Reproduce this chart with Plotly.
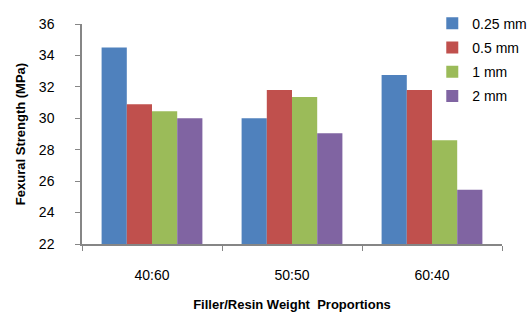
import plotly.graph_objects as go

categories = ["40:60", "50:50", "60:40"]
series_names = ["0.25 mm", "0.5 mm", "1 mm", "2 mm"]
v_025 = [34.5, 30.0, 32.75]
v_05 = [30.9, 31.8, 31.8]
v_1 = [30.45, 31.35, 28.6]
v_2 = [30.0, 29.05, 25.45]
colors = ["#4F81BD", "#C0504D", "#9BBB59", "#8064A2"]

fig = go.Figure()
for name, vals, c in zip(series_names, [v_025, v_05, v_1, v_2], colors):
    fig.add_trace(go.Bar(x=categories, y=vals, name=name, legendgroup=name,
                         marker=dict(color=c, line=dict(width=0))))

font = "Liberation Sans, Arial, sans-serif"
fig.update_layout(
    width=527, height=322,
    margin=dict(l=82, r=25, t=24, b=78, autoexpand=False),
    paper_bgcolor="white", plot_bgcolor="white",
    barmode="group", bargap=0.28, bargroupgap=0,
    font=dict(family=font, size=13, color="#000000"),
    legend=dict(x=0.834, y=1.074, xanchor="left", yanchor="top",
                font=dict(size=14, family=font), bgcolor="rgba(0,0,0,0)",
                itemwidth=30, tracegroupgap=3, traceorder="grouped"),
    xaxis=dict(showline=True, linecolor="#868686", linewidth=1.5, automargin=False,
               ticks="outside", tickson="boundaries", ticklen=5, tickcolor="#868686",
               tickfont=dict(size=14), showgrid=False, ticklabelstandoff=17,
               title=dict(text="<b>Filler/Resin Weight  Proportions</b>", font=dict(size=13), standoff=18)),
    yaxis=dict(range=[22, 36], dtick=2, showline=True, linecolor="#868686", linewidth=1.5,
               automargin=False,
               ticks="outside", ticklen=5, tickcolor="#868686", showgrid=False, zeroline=False,
               tickfont=dict(size=14), ticklabelstandoff=18,
               title=dict(text="<b>Fexural Strength (MPa)</b>", font=dict(size=13), standoff=10)),
)
fig.write_html("out.html", config={"displayModeBar": False},
               post_script="document.body.style.margin='0';")
